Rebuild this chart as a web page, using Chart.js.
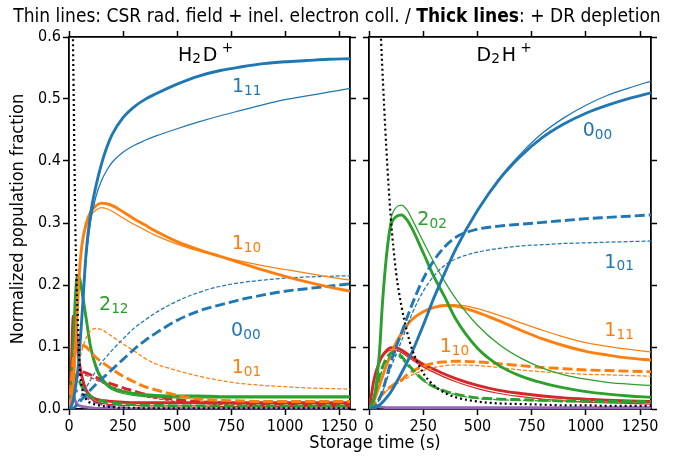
<!DOCTYPE html>
<html lang="en">
<head>
    <meta charset="UTF-8">
    <title>H2D+ / D2H+ population fractions</title>
    <script src="https://cdn.jsdelivr.net/npm/chart.js"></script>
    <style>
        body { margin: 0; background: #fff; }
        #wrap { position: relative; width: 674px; height: 461px; font-family: "DejaVu Sans Condensed", "DejaVu Sans", sans-serif; color: #000; }
        #wrap canvas { position: absolute; left: 0; top: 0; }
        .title { position: absolute; left: 0; top: 6px; width: 674px; text-align: center; font-size: 19px; line-height: 19px; white-space: nowrap; }
        .xlab { position: absolute; left: 175px; top: 433px; width: 400px; text-align: center; font-size: 18px; line-height: 18px; }
        .ylab { position: absolute; left: -183px; top: 210px; width: 400px; text-align: center; font-size: 18px; line-height: 18px; transform: rotate(-90deg); }
    </style>
</head>
<body>
<div id="wrap">
    <canvas id="leftChart" width="674" height="461"></canvas>
    <canvas id="rightChart" width="674" height="461"></canvas>
    <div class="title">Thin lines: CSR rad. field + inel. electron coll. / <b>Thick lines</b>: + DR depletion</div>
    <div class="xlab">Storage time (s)</div>
    <div class="ylab">Normalized population fraction</div>
</div>

<script>
// storage time grid (s)
const times = [0, 10, 20, 30, 40, 50, 60, 80, 100, 125, 150, 175, 200, 250, 300, 350, 400, 500, 600, 700, 800, 900, 1000, 1100, 1200, 1300];
const xTicks = [0, 250, 500, 750, 1000, 1250];
const yTicks = [0, 0.1, 0.2, 0.3, 0.4, 0.5, 0.6];

// H2D+ panel
const h2dDot        = [1.0, 0.82, 0.55, 0.28, 0.15, 0.065, 0.035, 0.015, 0.01, 0.007, 0.005, 0.004, 0.003, 0.002, 0.002, 0.001, 0.001, 0.001, 0.001, 0.001, 0.001, 0.001, 0.001, 0.001, 0.001, 0.001];
const h2d111Thick   = [0, 0.004, 0.015, 0.035, 0.06, 0.1, 0.15, 0.255, 0.315, 0.36, 0.395, 0.422, 0.443, 0.47, 0.487, 0.499, 0.508, 0.524, 0.537, 0.546, 0.552, 0.557, 0.56, 0.562, 0.564, 0.565];
const h2d111Thin    = [0, 0.004, 0.015, 0.035, 0.06, 0.1, 0.15, 0.245, 0.302, 0.343, 0.368, 0.385, 0.398, 0.414, 0.425, 0.433, 0.44, 0.452, 0.463, 0.473, 0.482, 0.491, 0.499, 0.505, 0.511, 0.517];
const h2d110Thick   = [0, 0.01, 0.04, 0.1, 0.17, 0.23, 0.265, 0.3, 0.318, 0.328, 0.332, 0.331, 0.328, 0.318, 0.307, 0.297, 0.287, 0.27, 0.257, 0.246, 0.235, 0.224, 0.214, 0.205, 0.197, 0.19];
const h2d110Thin    = [0, 0.01, 0.04, 0.1, 0.17, 0.23, 0.265, 0.295, 0.312, 0.321, 0.325, 0.323, 0.319, 0.308, 0.298, 0.289, 0.28, 0.266, 0.255, 0.246, 0.238, 0.231, 0.225, 0.219, 0.213, 0.208];
const h2d000Thick   = [0, 0, 0.001, 0.004, 0.008, 0.012, 0.016, 0.023, 0.031, 0.04, 0.048, 0.056, 0.064, 0.08, 0.096, 0.11, 0.122, 0.143, 0.158, 0.168, 0.177, 0.184, 0.19, 0.194, 0.198, 0.202];
const h2d000Thin    = [0, 0, 0.002, 0.006, 0.011, 0.017, 0.023, 0.035, 0.047, 0.062, 0.075, 0.085, 0.095, 0.113, 0.13, 0.143, 0.155, 0.174, 0.188, 0.198, 0.204, 0.208, 0.211, 0.213, 0.214, 0.215];
const h2d101Thick   = [0, 0.04, 0.08, 0.098, 0.104, 0.104, 0.103, 0.1, 0.092, 0.083, 0.076, 0.07, 0.064, 0.053, 0.044, 0.036, 0.031, 0.022, 0.016, 0.014, 0.013, 0.012, 0.012, 0.012, 0.012, 0.012];
const h2d101Thin    = [0, 0.005, 0.015, 0.035, 0.06, 0.08, 0.095, 0.115, 0.126, 0.13, 0.128, 0.123, 0.117, 0.105, 0.094, 0.082, 0.073, 0.062, 0.053, 0.046, 0.041, 0.038, 0.036, 0.034, 0.033, 0.032];
const h2d212Thick   = [0, 0.03, 0.1, 0.185, 0.215, 0.21, 0.19, 0.145, 0.1, 0.068, 0.05, 0.04, 0.034, 0.028, 0.025, 0.023, 0.022, 0.021, 0.021, 0.02, 0.02, 0.02, 0.02, 0.02, 0.02, 0.02];
const h2d212Thin    = [0, 0.03, 0.1, 0.185, 0.215, 0.208, 0.187, 0.14, 0.096, 0.064, 0.047, 0.037, 0.031, 0.025, 0.022, 0.02, 0.019, 0.018, 0.018, 0.018, 0.018, 0.018, 0.018, 0.018, 0.018, 0.018];
const h2dGreenDash  = [0, 0.02, 0.045, 0.055, 0.05, 0.043, 0.036, 0.026, 0.02, 0.016, 0.013, 0.011, 0.01, 0.008, 0.007, 0.006, 0.006, 0.005, 0.005, 0.005, 0.005, 0.005, 0.005, 0.005, 0.005, 0.005];
const h2dRedThick   = [0, 0.06, 0.15, 0.15, 0.1, 0.07, 0.052, 0.03, 0.021, 0.016, 0.014, 0.013, 0.012, 0.011, 0.01, 0.01, 0.01, 0.01, 0.01, 0.01, 0.01, 0.01, 0.01, 0.01, 0.01, 0.01];
const h2dRedThin    = [0, 0.06, 0.15, 0.148, 0.098, 0.067, 0.048, 0.027, 0.017, 0.011, 0.009, 0.008, 0.007, 0.006, 0.006, 0.005, 0.005, 0.005, 0.005, 0.004, 0.004, 0.004, 0.004, 0.004, 0.004, 0.004];
const h2dRedDash    = [0, 0.01, 0.03, 0.045, 0.055, 0.06, 0.06, 0.058, 0.055, 0.051, 0.047, 0.043, 0.04, 0.034, 0.029, 0.024, 0.02, 0.015, 0.012, 0.01, 0.009, 0.008, 0.008, 0.007, 0.007, 0.007];
const h2dRedDashThin = [0, 0.01, 0.03, 0.043, 0.052, 0.056, 0.056, 0.054, 0.051, 0.047, 0.043, 0.039, 0.036, 0.03, 0.025, 0.02, 0.017, 0.012, 0.009, 0.007, 0.006, 0.006, 0.005, 0.005, 0.005, 0.005];
const h2dPurpleDash = [0, 0.02, 0.03, 0.03, 0.028, 0.026, 0.024, 0.019, 0.015, 0.011, 0.008, 0.005, 0.004, 0.002, 0.001, 0, 0, 0, 0, 0, 0, 0, 0, 0, 0, 0];
const h2dPurple     = [0, 0.04, 0.025, 0.012, 0.007, 0.005, 0.004, 0.003, 0.002, 0.001, 0.001, 0.001, 0, 0, 0, 0, 0, 0, 0, 0, 0, 0, 0, 0, 0, 0];

// D2H+ panel
const d2hDot        = [1.0, 0.95, 0.88, 0.8, 0.72, 0.64, 0.56, 0.42, 0.31, 0.22, 0.165, 0.125, 0.095, 0.058, 0.038, 0.026, 0.019, 0.012, 0.009, 0.008, 0.007, 0.006, 0.006, 0.005, 0.005, 0.005];
const d2h000Thick   = [0, 0, 0.001, 0.002, 0.004, 0.007, 0.01, 0.018, 0.027, 0.042, 0.058, 0.075, 0.093, 0.135, 0.18, 0.22, 0.258, 0.32, 0.37, 0.408, 0.438, 0.46, 0.477, 0.49, 0.501, 0.51];
const d2h000Thin    = [0, 0, 0.001, 0.002, 0.004, 0.007, 0.01, 0.018, 0.027, 0.042, 0.058, 0.075, 0.093, 0.135, 0.18, 0.22, 0.258, 0.32, 0.372, 0.412, 0.445, 0.47, 0.49, 0.506, 0.518, 0.529];
const d2h101Thick   = [0, 0, 0.002, 0.005, 0.01, 0.018, 0.027, 0.05, 0.075, 0.1, 0.123, 0.147, 0.17, 0.21, 0.24, 0.262, 0.277, 0.29, 0.295, 0.298, 0.301, 0.304, 0.307, 0.309, 0.311, 0.313];
const d2h101Thin    = [0, 0, 0.002, 0.005, 0.01, 0.017, 0.025, 0.045, 0.066, 0.088, 0.11, 0.133, 0.155, 0.19, 0.215, 0.232, 0.242, 0.253, 0.259, 0.263, 0.265, 0.267, 0.268, 0.269, 0.27, 0.271];
const d2h202Thick   = [0, 0.005, 0.012, 0.03, 0.06, 0.1, 0.16, 0.245, 0.295, 0.31, 0.313, 0.305, 0.29, 0.252, 0.213, 0.18, 0.145, 0.098, 0.07, 0.053, 0.042, 0.034, 0.028, 0.024, 0.021, 0.019];
const d2h202Thin    = [0, 0.005, 0.012, 0.03, 0.06, 0.1, 0.16, 0.25, 0.305, 0.325, 0.329, 0.321, 0.305, 0.27, 0.236, 0.205, 0.178, 0.135, 0.104, 0.082, 0.066, 0.055, 0.048, 0.043, 0.04, 0.038];
const d2hGreenDash  = [0, 0.005, 0.015, 0.028, 0.042, 0.055, 0.066, 0.082, 0.09, 0.092, 0.085, 0.074, 0.064, 0.047, 0.036, 0.029, 0.024, 0.018, 0.016, 0.015, 0.014, 0.013, 0.013, 0.012, 0.012, 0.012];
const d2hGreenDashThin = [0, 0.005, 0.015, 0.027, 0.04, 0.052, 0.062, 0.077, 0.085, 0.087, 0.081, 0.071, 0.062, 0.046, 0.035, 0.028, 0.023, 0.017, 0.015, 0.014, 0.013, 0.012, 0.012, 0.011, 0.011, 0.011];
const d2h111Thick   = [0, 0.005, 0.012, 0.02, 0.03, 0.04, 0.05, 0.07, 0.088, 0.107, 0.122, 0.135, 0.145, 0.157, 0.164, 0.167, 0.166, 0.156, 0.142, 0.127, 0.113, 0.102, 0.093, 0.087, 0.082, 0.079];
const d2h111Thin    = [0, 0.005, 0.012, 0.02, 0.03, 0.04, 0.05, 0.07, 0.088, 0.107, 0.122, 0.135, 0.145, 0.157, 0.164, 0.168, 0.168, 0.162, 0.151, 0.139, 0.127, 0.116, 0.107, 0.101, 0.096, 0.092];
const d2h110Thick   = [0, 0.003, 0.007, 0.011, 0.015, 0.019, 0.023, 0.03, 0.036, 0.042, 0.047, 0.055, 0.061, 0.069, 0.074, 0.076, 0.077, 0.076, 0.073, 0.07, 0.067, 0.065, 0.063, 0.062, 0.061, 0.06];
const d2h110Thin    = [0, 0.003, 0.007, 0.011, 0.015, 0.019, 0.023, 0.029, 0.034, 0.04, 0.045, 0.05, 0.055, 0.062, 0.067, 0.07, 0.071, 0.07, 0.067, 0.063, 0.06, 0.058, 0.056, 0.055, 0.054, 0.053];
const d2hRedThick   = [0, 0.02, 0.042, 0.057, 0.068, 0.078, 0.085, 0.094, 0.099, 0.099, 0.095, 0.089, 0.083, 0.072, 0.064, 0.056, 0.049, 0.038, 0.03, 0.025, 0.021, 0.018, 0.016, 0.014, 0.013, 0.012];
const d2hRedThin    = [0, 0.02, 0.042, 0.056, 0.067, 0.076, 0.083, 0.091, 0.095, 0.095, 0.091, 0.085, 0.079, 0.068, 0.059, 0.051, 0.044, 0.033, 0.025, 0.02, 0.016, 0.013, 0.011, 0.01, 0.009, 0.008];
const d2hPurple     = [0, 0.018, 0.01, 0.006, 0.004, 0.003, 0.003, 0.002, 0.002, 0.002, 0.002, 0.002, 0.002, 0.002, 0.002, 0.002, 0.002, 0.002, 0.002, 0.002, 0.002, 0.002, 0.002, 0.002, 0.002, 0.002];

// matplotlib tab10
const BLUE = '#1f77b4', ORANGE = '#ff7f0e', GREEN = '#2ca02c', RED = '#d62728', PURPLE = '#9467bd';

const STYLES = {
    thick:     { w: 2.9, dash: [] },
    thin:      { w: 1.25, dash: [] },
    thickDash: { w: 2.9, dash: [10, 4] },
    thinDash:  { w: 1.25, dash: [4, 2] },
    dot:       { w: 2.2, dash: [2, 3] }
};

function curve(values, color, style) {
    const s = STYLES[style];
    return {
        data: times.map((t, i) => ({ x: t, y: values[i] })),
        borderColor: color,
        borderWidth: s.w,
        borderDash: s.dash,
        pointRadius: 0,
        fill: false,
        cubicInterpolationMode: 'monotone',
        clip: 0,
        order: style === 'dot' ? 0 : 1
    };
}

// level labels, placed in data coordinates
const leftNotes = [
    { t: 504, v: 0.562, color: '#000', parts: [['H', 'n'], ['2', 'sub'], ['D', 'n'], ['+', 'sup']] },
    { t: 754, v: 0.511, color: BLUE, parts: [['1', 'n'], ['11', 'sub']] },
    { t: 753, v: 0.258, color: ORANGE, parts: [['1', 'n'], ['10', 'sub']] },
    { t: 139, v: 0.160, color: GREEN, parts: [['2', 'n'], ['12', 'sub']] },
    { t: 750, v: 0.117, color: BLUE, parts: [['0', 'n'], ['00', 'sub']] },
    { t: 753, v: 0.058, color: ORANGE, parts: [['1', 'n'], ['01', 'sub']] }
];
const rightNotes = [
    { t: 496, v: 0.562, color: '#000', parts: [['D', 'n'], ['2', 'sub'], ['H', 'n'], ['+', 'sup']] },
    { t: 985, v: 0.440, color: BLUE, parts: [['0', 'n'], ['00', 'sub']] },
    { t: 223, v: 0.297, color: GREEN, parts: [['2', 'n'], ['02', 'sub']] },
    { t: 1085, v: 0.228, color: BLUE, parts: [['1', 'n'], ['01', 'sub']] },
    { t: 1085, v: 0.118, color: ORANGE, parts: [['1', 'n'], ['11', 'sub']] },
    { t: 326, v: 0.092, color: ORANGE, parts: [['1', 'n'], ['10', 'sub']] }
];
const NOTE_SIZE = 19;

function notesPlugin(items) {
    return {
        id: 'notes',
        afterDatasetsDraw(chart) {
            const ctx = chart.ctx;
            const xs = chart.scales.x, ys = chart.scales.y;
            const big = NOTE_SIZE, small = NOTE_SIZE * 0.72;
            ctx.save();
            ctx.textAlign = 'left';
            ctx.textBaseline = 'alphabetic';
            items.forEach(n => {
                let px = xs.getPixelForValue(n.t);
                const py = ys.getPixelForValue(n.v);
                ctx.fillStyle = n.color;
                n.parts.forEach(([txt, kind]) => {
                    let size = big, dy = 0, after = 0;
                    if (kind === 'sub') { size = small; dy = big * 0.15; after = big * 0.1; }
                    if (kind === 'sup') { size = small; dy = -big * 0.45; px += big * 0.22; }
                    ctx.font = size + 'px "DejaVu Sans"';
                    ctx.fillText(txt, px, py + dy);
                    px += ctx.measureText(txt).width + after;
                });
            });
            ctx.restore();
        }
    };
}

Chart.defaults.font.family = '"DejaVu Sans Condensed", "DejaVu Sans", sans-serif';
Chart.defaults.font.size = 16;
Chart.defaults.color = '#000';

const tickGrid = { drawOnChartArea: false, tickLength: 6, tickWidth: 1.5, color: '#000' };
const frame = { display: true, color: '#000', width: 1.8 };

function makeChart(id, datasets, notes, padLeft, padRight, showY) {
    return new Chart(document.getElementById(id), {
        type: 'line',
        data: { datasets: datasets },
        options: {
            responsive: false,
            animation: false,
            events: [],
            layout: { padding: { left: padLeft, right: padRight, top: 31, bottom: 20 } },
            plugins: { legend: { display: false }, tooltip: { enabled: false } },
            scales: {
                x: {
                    type: 'linear', position: 'bottom', min: 0, max: 1300,
                    afterBuildTicks: s => { s.ticks = xTicks.map(v => ({ value: v })); },
                    afterFit: s => { s.height = 32; },
                    ticks: { padding: 2, maxRotation: 0, autoSkip: false, callback: v => String(v) },
                    grid: tickGrid, border: frame
                },
                xTop: {
                    type: 'linear', position: 'top', min: 0, max: 1300,
                    afterBuildTicks: s => { s.ticks = xTicks.map(v => ({ value: v })); },
                    afterFit: s => { s.height = 6; },
                    ticks: { display: false },
                    grid: tickGrid, border: frame
                },
                y: {
                    type: 'linear', position: 'left', min: 0, max: 0.6,
                    afterBuildTicks: s => { s.ticks = yTicks.map(v => ({ value: v })); },
                    afterFit: s => { s.width = showY ? 60 : 6; },
                    ticks: { display: showY, padding: 2, callback: v => v.toFixed(1) },
                    grid: tickGrid, border: frame
                },
                yRight: {
                    type: 'linear', position: 'right', min: 0, max: 0.6,
                    afterBuildTicks: s => { s.ticks = yTicks.map(v => ({ value: v })); },
                    afterFit: s => { s.width = 6; },
                    ticks: { display: false },
                    grid: tickGrid, border: frame
                }
            }
        },
        plugins: [notesPlugin(notes)]
    });
}

makeChart('leftChart', [
    curve(h2dDot, '#000', 'dot'),
    curve(h2d111Thick, BLUE, 'thick'),
    curve(h2d111Thin, BLUE, 'thin'),
    curve(h2d110Thick, ORANGE, 'thick'),
    curve(h2d110Thin, ORANGE, 'thin'),
    curve(h2d000Thick, BLUE, 'thickDash'),
    curve(h2d000Thin, BLUE, 'thinDash'),
    curve(h2d101Thick, ORANGE, 'thickDash'),
    curve(h2d101Thin, ORANGE, 'thinDash'),
    curve(h2d212Thick, GREEN, 'thick'),
    curve(h2d212Thin, GREEN, 'thin'),
    curve(h2dGreenDash, GREEN, 'thickDash'),
    curve(h2dRedThick, RED, 'thick'),
    curve(h2dRedThin, RED, 'thin'),
    curve(h2dRedDash, RED, 'thickDash'),
    curve(h2dRedDashThin, RED, 'thinDash'),
    curve(h2dPurpleDash, PURPLE, 'thickDash'),
    curve(h2dPurple, PURPLE, 'thick')
], leftNotes, 9, 318, true);

makeChart('rightChart', [
    curve(d2hDot, '#000', 'dot'),
    curve(d2h000Thick, BLUE, 'thick'),
    curve(d2h000Thin, BLUE, 'thin'),
    curve(d2h101Thick, BLUE, 'thickDash'),
    curve(d2h101Thin, BLUE, 'thinDash'),
    curve(d2h202Thick, GREEN, 'thick'),
    curve(d2h202Thin, GREEN, 'thin'),
    curve(d2hGreenDash, GREEN, 'thickDash'),
    curve(d2hGreenDashThin, GREEN, 'thinDash'),
    curve(d2h111Thick, ORANGE, 'thick'),
    curve(d2h111Thin, ORANGE, 'thin'),
    curve(d2h110Thick, ORANGE, 'thickDash'),
    curve(d2h110Thin, ORANGE, 'thinDash'),
    curve(d2hRedThick, RED, 'thick'),
    curve(d2hRedThin, RED, 'thin'),
    curve(d2hPurple, PURPLE, 'thick')
], rightNotes, 363, 17, false);
</script>
</body>
</html>
